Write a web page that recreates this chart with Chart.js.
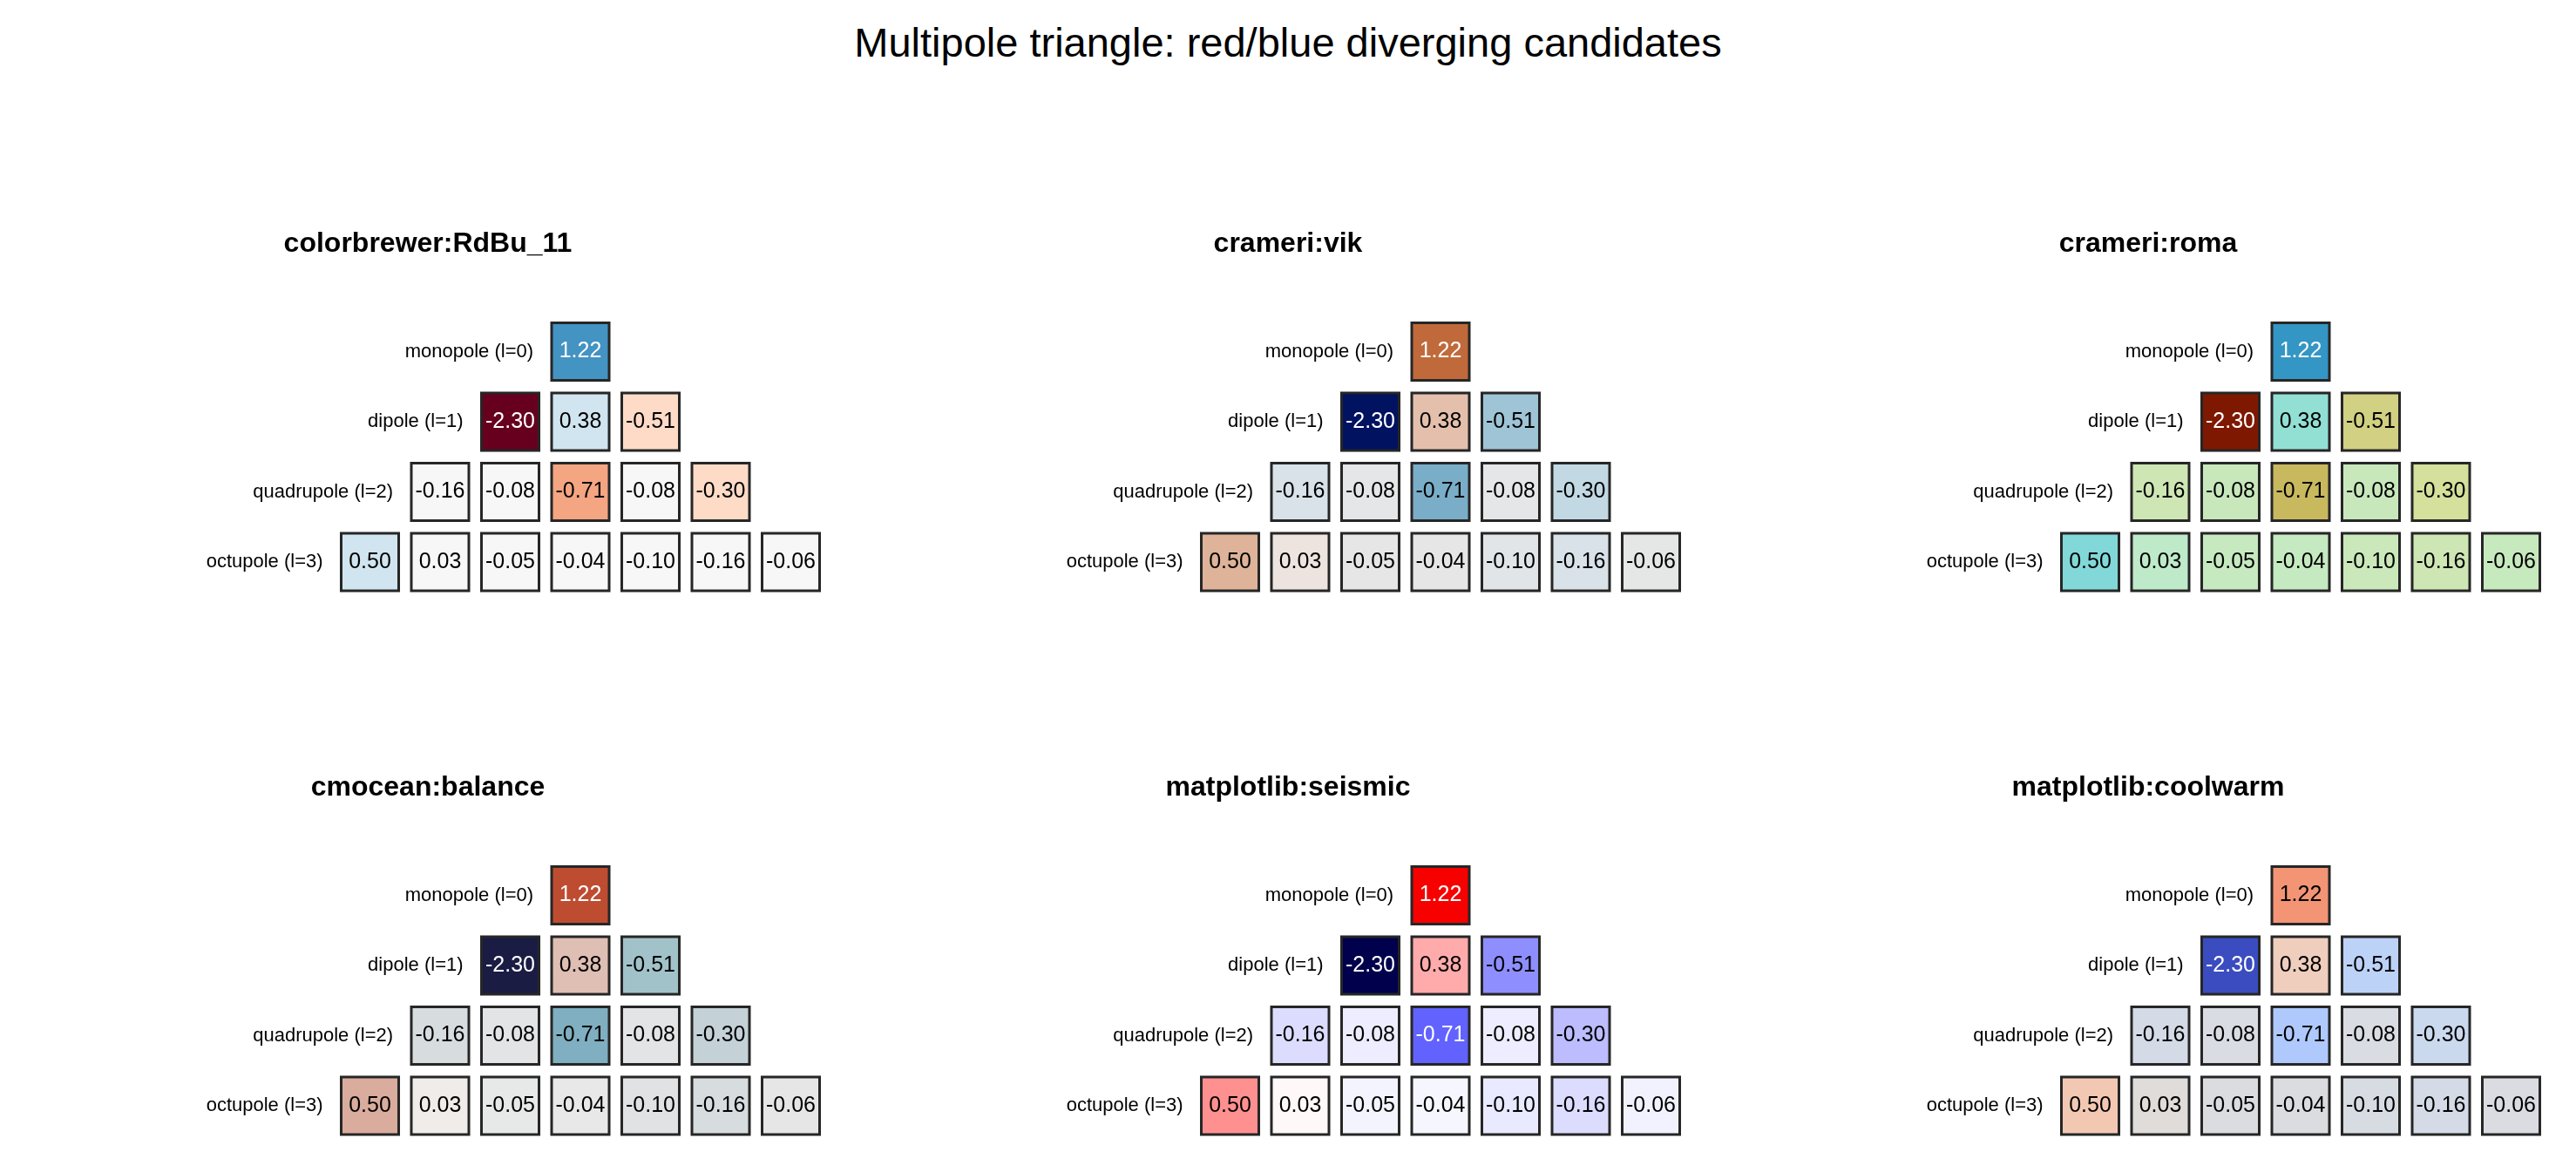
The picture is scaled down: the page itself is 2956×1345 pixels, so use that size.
<!DOCTYPE html>
<html>
<head>
<meta charset="utf-8">
<script src="https://cdn.jsdelivr.net/npm/chart.js@4.4.1/dist/chart.umd.min.js"></script>
<style>
  html, body { margin: 0; padding: 0; background: #fff; }
  body { width: 2956px; height: 1345px; position: relative; overflow: hidden; }
  #main-title {
    position: absolute; left: 0; top: 25px; width: 2956px; text-align: center;
    font-family: 'Liberation Sans', Arial, sans-serif; font-size: 47px; line-height: 47px; color: #000;
  }
  canvas { position: absolute; }
</style>
</head>
<body>
<div id="main-title">Multipole triangle: red/blue diverging candidates</div>
<canvas id="p0" width="980" height="460" style="left:1px;top:240px"></canvas>
<canvas id="p1" width="980" height="460" style="left:988px;top:240px"></canvas>
<canvas id="p2" width="980" height="460" style="left:1975px;top:240px"></canvas>
<canvas id="p3" width="980" height="460" style="left:1px;top:864px"></canvas>
<canvas id="p4" width="980" height="460" style="left:988px;top:864px"></canvas>
<canvas id="p5" width="980" height="460" style="left:1975px;top:864px"></canvas>
<script>
// multipole coefficients, one row per l, m = -l..l
const rowLabels = ['monopole (l=0)', 'dipole (l=1)', 'quadrupole (l=2)', 'octupole (l=3)'];
const monopole = [1.22];
const dipole = [-2.30, 0.38, -0.51];
const quadrupole = [-0.16, -0.08, -0.71, -0.08, -0.30];
const octupole = [0.50, 0.03, -0.05, -0.04, -0.10, -0.16, -0.06];
const panelNames = ['colorbrewer:RdBu_11', 'crameri:vik', 'crameri:roma',
                    'cmocean:balance', 'matplotlib:seismic', 'matplotlib:coolwarm'];

const rows = [monopole, dipole, quadrupole, octupole];

// colormaps (t from 0 to 1)
const rdbu11 = ['#67001f', '#b2182b', '#d6604d', '#f4a582', '#fddbc7', '#f7f7f7',
                '#d1e5f0', '#92c5de', '#4393c3', '#2166ac', '#053061'];
const vikStops = [
  [0.000, [1, 18, 97]], [0.150, [5, 72, 140]], [0.250, [50, 122, 173]],
  [0.346, [122, 174, 200]], [0.389, [158, 196, 214]], [0.435, [194, 217, 227]],
  [0.465, [216, 226, 232]], [0.483, [228, 230, 231]], [0.500, [234, 230, 228]],
  [0.507, [237, 228, 223]], [0.583, [228, 192, 172]], [0.609, [222, 179, 153]],
  [0.765, [192, 106, 59]], [0.900, [140, 40, 15]], [1.000, [89, 0, 8]]
];
const romaStops = [
  [0.000, [126, 24, 0]], [0.150, [165, 100, 30]], [0.250, [190, 150, 65]],
  [0.346, [200, 185, 95]], [0.389, [210, 208, 130]], [0.435, [212, 224, 155]],
  [0.465, [206, 230, 180]], [0.478, [202, 232, 186]], [0.490, [198, 233, 191]],
  [0.507, [190, 234, 201]], [0.583, [146, 224, 212]], [0.609, [130, 216, 216]],
  [0.765, [52, 150, 196]], [0.900, [35, 85, 170]], [1.000, [26, 51, 153]]
];
const balanceStops = [
  [0.000, [26, 28, 68]], [0.150, [30, 72, 160]], [0.250, [70, 135, 172]],
  [0.346, [127, 175, 192]], [0.389, [162, 194, 202]], [0.435, [196, 209, 214]],
  [0.465, [215, 220, 223]], [0.478, [224, 226, 228]], [0.490, [232, 232, 232]],
  [0.507, [240, 236, 234]], [0.583, [223, 190, 180]], [0.609, [217, 172, 158]],
  [0.765, [190, 76, 49]], [0.900, [140, 22, 30]], [1.000, [60, 9, 18]]
];
const seismicStops = [
  [0.00, [0, 0, 76]], [0.25, [0, 0, 255]], [0.50, [255, 255, 255]],
  [0.75, [255, 0, 0]], [1.00, [128, 0, 0]]
];
const coolwarmTable = [
  [59,76,192],[68,90,204],[77,104,215],[87,117,225],[98,130,234],[108,142,241],
  [119,154,247],[130,165,251],[141,176,254],[152,185,255],[163,194,255],[174,201,253],
  [184,208,249],[194,213,244],[204,217,238],[213,219,230],[221,221,221],[229,216,209],
  [236,211,197],[241,204,185],[245,196,173],[247,187,160],[247,177,148],[247,166,135],
  [244,154,123],[241,141,111],[236,127,99],[229,112,88],[222,96,77],[213,80,66],
  [203,62,56],[192,40,47],[180,4,38]
];
const coolwarmStops = coolwarmTable.map((c, i) => [i / (coolwarmTable.length - 1), c]);

function hexRgb(h) {
  return [parseInt(h.slice(1, 3), 16), parseInt(h.slice(3, 5), 16), parseInt(h.slice(5, 7), 16)];
}

function interp(stops, t) {
  for (let i = 1; i < stops.length; i++) {
    if (t <= stops[i][0]) {
      const [t0, c0] = stops[i - 1];
      const [t1, c1] = stops[i];
      const f = (t - t0) / (t1 - t0);
      return c0.map((v, k) => Math.round(v + (c1[k] - v) * f));
    }
  }
  return stops[stops.length - 1][1];
}

const colormaps = [
  t => hexRgb(rdbu11[Math.min(Math.floor(t * rdbu11.length), rdbu11.length - 1)]),
  t => interp(vikStops, t),
  t => interp(romaStops, t),
  t => interp(balanceStops, t),
  t => interp(seismicStops, t),
  t => interp(coolwarmStops, t)
];

// symmetric norm around zero
const vmax = Math.max(...rows.flat().map(Math.abs));
const norm = v => (v + vmax) / (2 * vmax);

function luminance(rgb) {
  const lin = rgb.map(c => {
    c /= 255;
    return c <= 0.04045 ? c / 12.92 : Math.pow((c + 0.055) / 1.055, 2.4);
  });
  return 0.2126 * lin[0] + 0.7152 * lin[1] + 0.0722 * lin[2];
}

const points = [];
rows.forEach((vals, l) => {
  vals.forEach((v, i) => points.push({ x: i - l, y: l, v: v }));
});

const FONT = "'Liberation Sans', Arial, sans-serif";
Chart.defaults.font.family = FONT;

const cellText = {
  id: 'cellText',
  afterDatasetsDraw(chart, args, opts) {
    const ctx = chart.ctx;
    const xs = chart.scales.x, ys = chart.scales.y;
    ctx.save();
    ctx.textAlign = 'center';
    ctx.textBaseline = 'middle';
    ctx.font = '25px ' + FONT;
    chart.getDatasetMeta(0).data.forEach((pt, i) => {
      const raw = chart.data.datasets[0].data[i];
      const rgb = opts.cmap(norm(raw.v));
      ctx.fillStyle = luminance(rgb) < 0.3 ? '#ffffff' : '#000000';
      ctx.fillText(raw.v.toFixed(2), pt.x, pt.y);
    });
    // row labels, right-aligned just left of each row
    ctx.textAlign = 'right';
    ctx.font = '22px ' + FONT;
    ctx.fillStyle = '#000';
    rowLabels.forEach((lab, l) => {
      ctx.fillText(lab, xs.getPixelForValue(-l - 0.67), ys.getPixelForValue(l));
    });
    ctx.restore();
  }
};

function cellRadius(chart) {
  const xs = chart.scales.x;
  const unit = xs.getPixelForValue(1) - xs.getPixelForValue(0);
  return unit * 0.82 / Math.SQRT2;
}

panelNames.forEach((name, p) => {
  const cmap = colormaps[p];
  new Chart(document.getElementById('p' + p), {
    type: 'scatter',
    data: {
      datasets: [{
        data: points,
        pointStyle: 'rect',
        pointRadius: c => cellRadius(c.chart),
        pointHoverRadius: c => cellRadius(c.chart),
        pointBackgroundColor: c => 'rgb(' + cmap(norm(c.raw.v)).join(',') + ')',
        pointBorderColor: '#262626',
        pointBorderWidth: 3,
        pointHoverBorderWidth: 3
      }]
    },
    options: {
      responsive: false,
      animation: false,
      events: [],
      layout: { padding: 0 },
      plugins: {
        legend: { display: false },
        tooltip: { enabled: false },
        title: {
          display: true,
          text: name,
          color: '#000',
          font: { size: 32, weight: 'bold' },
          padding: { top: 21, bottom: 40.6 }
        },
        cellText: { cmap: cmap }
      },
      scales: {
        x: { type: 'linear', min: -8.261, max: 3.913, display: false },
        y: { type: 'linear', min: -0.789, max: 3.683, reverse: true, display: false }
      }
    },
    plugins: [cellText]
  });
});
</script>
</body>
</html>
